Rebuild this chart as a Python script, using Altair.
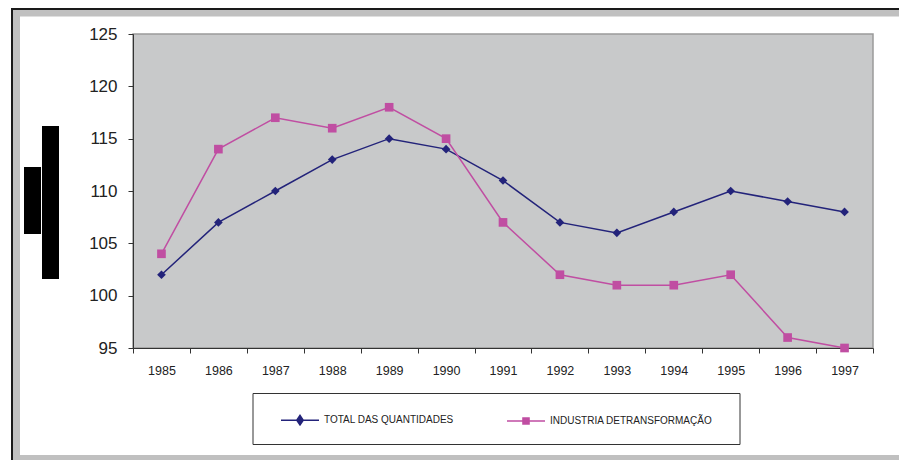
import altair as alt
import pandas as pd

years = ["1985", "1986", "1987", "1988", "1989", "1990", "1991",
         "1992", "1993", "1994", "1995", "1996", "1997"]
total = [102, 107, 110, 113, 115, 114, 111, 107, 106, 108, 110, 109, 108]
industria = [104, 114, 117, 116, 118, 115, 107, 102, 101, 101, 102, 96, 95]
series_names = ["TOTAL DAS QUANTIDADES", "INDUSTRIA DETRANSFORMAÇÃO"]
series_colors = ["#23237a", "#c04ea2"]
series_shapes = ["diamond", "square"]
y_ticks = [95, 100, 105, 110, 115, 120, 125]

rows = []
for y, a, b in zip(years, total, industria):
    rows.append({"ano": y, "serie": series_names[0], "valor": a})
    rows.append({"ano": y, "serie": series_names[1], "valor": b})
df = pd.DataFrame(rows)

W, H = 740, 314

x_enc = alt.X("ano:N", sort=years,
              scale=alt.Scale(paddingInner=0, paddingOuter=0),
              axis=alt.Axis(title=None, labelAngle=0, tickBand="extent",
                            tickSize=5, labelPadding=11, labelFontSize=12.5,
                            labelFont="Liberation Sans", labelColor="#222",
                            domainColor="#333", tickColor="#333", grid=False))
y_enc = alt.Y("valor:Q", scale=alt.Scale(domain=[95, 125], nice=False, zero=False),
              axis=alt.Axis(title=None, values=y_ticks, tickSize=5, labelPadding=11,
                            labelFontSize=17, labelFont="Liberation Sans",
                            labelColor="#222", domainColor="#333", tickColor="#333",
                            grid=False))

layers = []
for name, col, shp in zip(series_names, series_colors, series_shapes):
    base = alt.Chart(df).transform_filter(alt.datum.serie == name)
    layers.append(base.mark_line(strokeWidth=1.5, color=col).encode(x=x_enc, y=y_enc))
    layers.append(base.mark_point(filled=True, size=75, opacity=1, shape=shp, color=col)
                  .encode(x=x_enc, y=y_enc))

# legend-only layer (no rows drawn): symbols are a line with the series marker
legend_paths = ["M-1,0H1M-0.17,0L0,-0.25L0.17,0L0,0.25Z",
                "M-1,0H1M-0.16,-0.16H0.16V0.16H-0.16Z"]
leg = alt.Legend(title=None, orient="none", direction="horizontal",
                 columns=2, legendX=147, legendY=366,
                 symbolSize=1444, symbolStrokeWidth=1.5, symbolOpacity=1,
                 labelFontSize=10, labelFont="Liberation Sans",
                 labelColor="#222", labelOffset=4, labelLimit=400,
                 columnPadding=50, padding=0)
legend_layer = alt.Chart(df).transform_filter("false").mark_point(
    filled=True, opacity=1, strokeWidth=1.5).encode(
    x=x_enc, y=y_enc,
    color=alt.Color("serie:N", scale=alt.Scale(domain=series_names, range=series_colors), legend=leg),
    stroke=alt.Stroke("serie:N", scale=alt.Scale(domain=series_names, range=series_colors), legend=leg),
    shape=alt.Shape("serie:N", scale=alt.Scale(domain=series_names, range=legend_paths), legend=leg),
)

# decorative frame, legend box and redaction blocks (not data)
deco = pd.DataFrame([
    {"x": -122, "x2": 766, "y": -26, "y2": -24, "c": "#1a1a1a"},
    {"x": -122, "x2": -120, "y": -26, "y2": 426, "c": "#1a1a1a"},
    {"x": -120, "x2": 766, "y": -24, "y2": -17.5, "c": "#c0c0c0"},
    {"x": -120, "x2": -113, "y": -24, "y2": 426, "c": "#c0c0c0"},
    {"x": -120, "x2": 766, "y": 421, "y2": 426, "c": "#c0c0c0"},
    {"x": -109, "x2": -92, "y": 133, "y2": 200, "c": "#000000"},
    {"x": -91, "x2": -74, "y": 92, "y2": 245, "c": "#000000"},
])
frame = alt.Chart(deco).mark_rect(clip=False).encode(
    x=alt.X("x:Q", scale=None), x2="x2:Q",
    y=alt.Y("y:Q", scale=None), y2="y2:Q",
    fill=alt.Fill("c:N", scale=None))

legbox = alt.Chart(pd.DataFrame([{"x": 120, "x2": 607, "y": 359.5, "y2": 410.5}])).mark_rect(
    clip=False, fill=None, stroke="#333", strokeWidth=1).encode(
    x=alt.X("x:Q", scale=None), x2="x2:Q",
    y=alt.Y("y:Q", scale=None), y2="y2:Q")

chart = alt.layer(frame, legbox, *layers, legend_layer).properties(
    width=W, height=H,
    autosize=alt.AutoSizeParams(type="none"),
    padding={"left": 125, "top": 26, "right": 26, "bottom": 112},
    background="white",
).configure_view(fill="#c8c9ca", stroke="#9a9a9a", strokeWidth=1.5)

chart.save("out.html", embed_options={"renderer": "svg", "actions": False})
